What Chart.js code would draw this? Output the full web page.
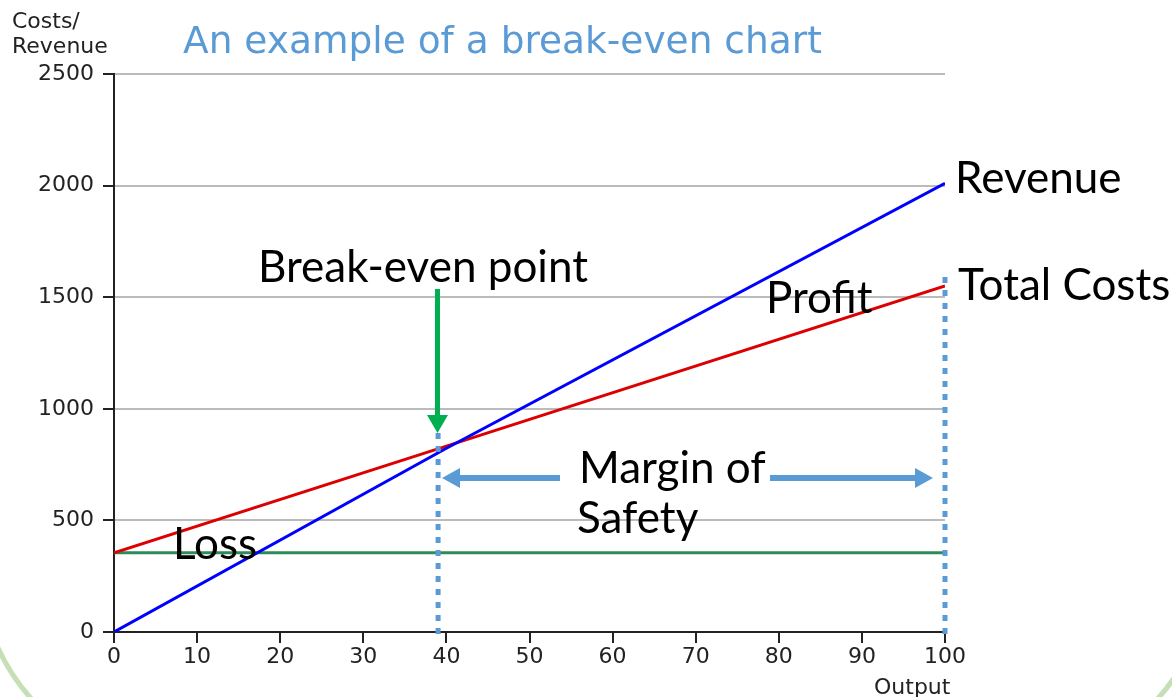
<!DOCTYPE html>
<html>
<head>
<meta charset="utf-8">
<title>Break-even chart</title>
<script src="https://cdn.jsdelivr.net/npm/chart.js@4/dist/chart.umd.min.js"></script>
<style>
    html, body { margin: 0; padding: 0; background: #fff; overflow: hidden; }
    #chart { display: block; }
</style>
</head>
<body>
<canvas id="chart" width="1172" height="697"></canvas>
<script>
// 数据
const outputLevels = [0, 40, 100];
const revenue = [0, 823, 2010];
const totalCosts = [355, 833, 1550];
const fixedCosts = [355, 355, 355];

const breakEvenMarkX = [39, 39];
const breakEvenMarkY = [950, -40];
const capacityMarkX = [100, 100];
const capacityMarkY = [1590, -40];

const xTicks = [0, 10, 20, 30, 40, 50, 60, 70, 80, 90, 100];
const yTicks = [0, 500, 1000, 1500, 2000, 2500];

const pts = (xs, ys) => xs.map((x, i) => ({ x: x, y: ys[i] }));

const BLUE_NOTE = '#5b9bd5';

// 幻灯片边框 (only the bottom corners show)
const frame = {
    id: 'frame',
    beforeDraw(chart) {
        const ctx = chart.ctx;
        ctx.save();
        ctx.strokeStyle = '#c5e0b4';
        ctx.lineWidth = 5;
        ctx.beginPath();
        ctx.arc(180, 565, 200, Math.PI / 2, Math.PI);
        ctx.stroke();
        ctx.beginPath();
        ctx.arc(1009, 565, 200, 0, Math.PI / 2);
        ctx.stroke();
        ctx.restore();
    }
};

// 箭头 + 文字
const notes = {
    id: 'notes',
    afterDatasetsDraw(chart) {
        const ctx = chart.ctx;
        ctx.save();

        // green arrow -> break-even point
        ctx.fillStyle = '#00b050';
        ctx.fillRect(435, 289, 5, 127);
        ctx.beginPath();
        ctx.moveTo(427, 415);
        ctx.lineTo(448, 415);
        ctx.lineTo(437.5, 433);
        ctx.closePath();
        ctx.fill();

        // margin of safety arrows
        ctx.fillStyle = BLUE_NOTE;
        ctx.fillRect(458, 475, 102, 6);
        ctx.beginPath();
        ctx.moveTo(460, 468);
        ctx.lineTo(460, 488);
        ctx.lineTo(442, 478);
        ctx.closePath();
        ctx.fill();

        ctx.fillRect(770, 475, 147, 6);
        ctx.beginPath();
        ctx.moveTo(915, 468);
        ctx.lineTo(915, 488);
        ctx.lineTo(933, 478);
        ctx.closePath();
        ctx.fill();

        // labels
        ctx.fillStyle = '#000';
        ctx.textBaseline = 'alphabetic';
        ctx.textAlign = 'left';
        ctx.font = '44px Lato';
        ctx.fillText('Revenue', 955, 193);
        ctx.fillText('Total Costs', 958, 300);
        ctx.fillText('Break-even point', 258, 282);
        ctx.fillText('Profit', 766, 313);
        ctx.fillText('Loss', 173, 559);
        ctx.fillText('Margin of', 579, 483);
        ctx.fillText('Safety', 577, 533);

        // axis titles + title
        ctx.fillStyle = '#222';
        ctx.font = '22px "DejaVu Sans"';
        ctx.fillText('Costs/', 12, 28);
        ctx.fillText('Revenue', 12, 53);
        ctx.fillText('Output', 874, 694);

        ctx.fillStyle = BLUE_NOTE;
        ctx.font = '37.5px "DejaVu Sans"';
        ctx.fillText('An example of a break-even chart', 183, 53);

        ctx.restore();
    }
};

Chart.defaults.font.family = '"DejaVu Sans"';
Chart.defaults.color = '#222';

new Chart(document.getElementById('chart'), {
    type: 'line',
    data: {
        datasets: [
            {
                label: 'Break-even output',
                data: pts(breakEvenMarkX, breakEvenMarkY),
                borderColor: BLUE_NOTE,
                borderWidth: 5,
                borderDash: [6, 7],
                borderCapStyle: 'butt',
                pointRadius: 0,
                clip: false
            },
            {
                label: 'Capacity',
                data: pts(capacityMarkX, capacityMarkY),
                borderColor: BLUE_NOTE,
                borderWidth: 5,
                borderDash: [6, 7],
                borderCapStyle: 'butt',
                pointRadius: 0,
                clip: false
            },
            {
                label: 'Revenue',
                data: pts(outputLevels, revenue),
                borderColor: '#0000ff',
                borderWidth: 3,
                pointRadius: 0,
                tension: 0
            },
            {
                label: 'Total Costs',
                data: pts(outputLevels, totalCosts),
                borderColor: '#dd0000',
                borderWidth: 3,
                pointRadius: 0,
                tension: 0
            },
            {
                label: 'Fixed Costs',
                data: pts(outputLevels, fixedCosts),
                borderColor: '#2e8b57',
                borderWidth: 3,
                pointRadius: 0,
                tension: 0
            }
        ]
    },
    options: {
        responsive: false,
        animation: false,
        events: [],
        layout: { padding: { left: 0, top: 74, right: 227, bottom: 0 } },
        plugins: {
            legend: { display: false },
            tooltip: { enabled: false },
            title: { display: false }
        },
        scales: {
            x: {
                type: 'linear',
                min: 0,
                max: 100,
                afterFit: (s) => { s.height = 65; },
                afterBuildTicks: (s) => { s.ticks = xTicks.map(v => ({ value: v })); },
                grid: { color: 'rgba(0,0,0,0)', tickColor: '#222', tickLength: 11, lineWidth: 2 },
                border: { color: '#222', width: 2 },
                ticks: { font: { size: 22 }, color: '#222', padding: 1, maxRotation: 0,
                         callback: (v) => String(v) }
            },
            y: {
                type: 'linear',
                min: 0,
                max: 2500,
                afterFit: (s) => { s.width = 114; },
                afterBuildTicks: (s) => { s.ticks = yTicks.map(v => ({ value: v })); },
                grid: { color: '#bbbbbb', tickColor: '#222', tickLength: 11, lineWidth: 2 },
                border: { color: '#222', width: 2 },
                ticks: { font: { size: 22 }, color: '#222', padding: 9,
                         callback: (v) => String(v) }
            }
        }
    },
    plugins: [frame, notes]
});
</script>
</body>
</html>
